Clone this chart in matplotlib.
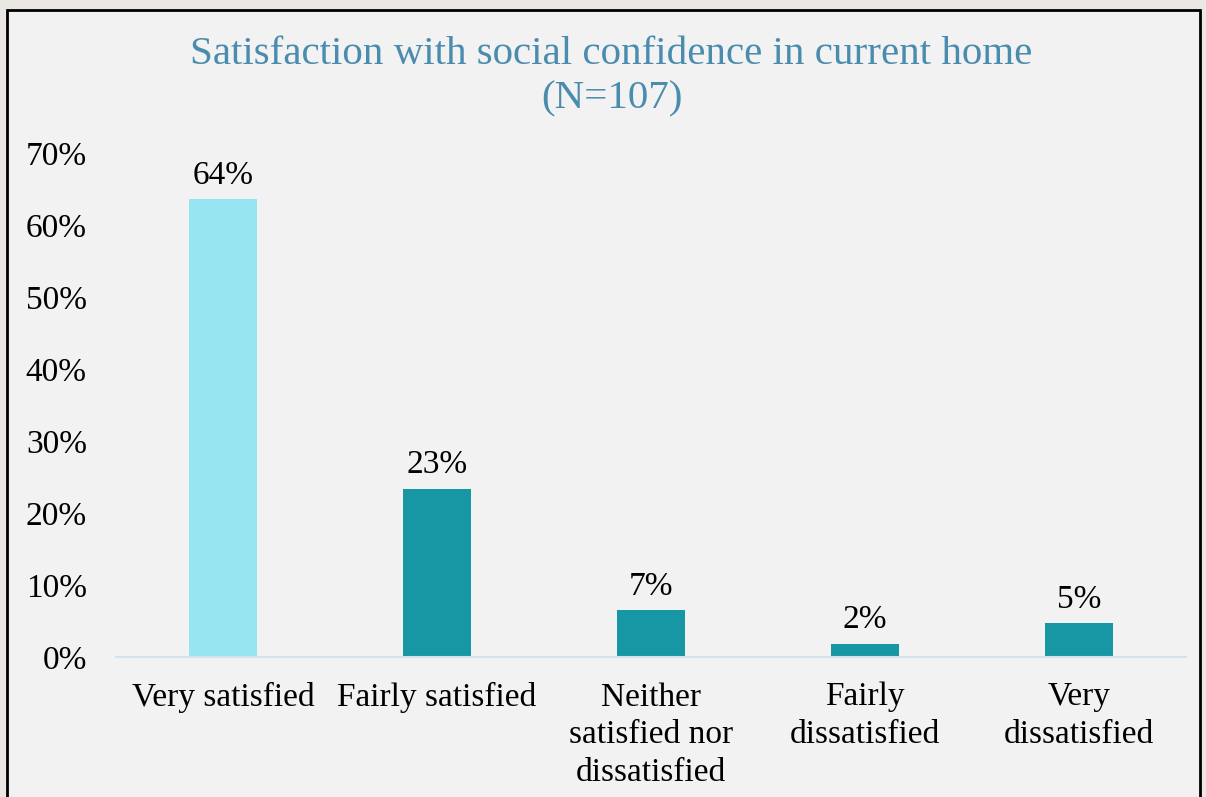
import numpy as np
import matplotlib.pyplot as plt
from matplotlib.patches import Rectangle

# survey responses, N = 107
categories = ['Very satisfied', 'Fairly satisfied',
              'Neither\nsatisfied nor\ndissatisfied',
              'Fairly\ndissatisfied', 'Very\ndissatisfied']
counts = np.array([68, 25, 7, 2, 5])
n_total = 107
yticks = [0, 10, 20, 30, 40, 50, 60, 70]

pct = counts / n_total * 100
colors = ['#96e5f0', '#1796a3', '#1796a3', '#1796a3', '#1796a3']

plt.rcParams['font.family'] = ['Liberation Serif', 'DejaVu Serif']

fig = plt.figure(figsize=(12.06, 7.97), dpi=100, facecolor='#ebe8e3')
fig.patches.append(Rectangle((7/1206, -0.02), 1193/1206, 1.02 - 10/797,
                             transform=fig.transFigure, facecolor='#f2f2f2',
                             edgecolor='black', linewidth=2, zorder=-10))

ax = fig.add_axes([116/1206, 1 - 657/797, 1070/1206, 504/797])
ax.set_facecolor('none')
x = np.arange(len(categories))
bars = ax.bar(x, pct, width=0.32, color=colors)

for xi, p in zip(x, pct):
    ax.annotate('{:.0f}%'.format(p), (xi, p), xytext=(0, 6),
                textcoords='offset points', ha='center', va='bottom',
                fontsize=24)

ax.set_xlim(-0.5, len(categories) - 0.5)
ax.set_ylim(0, 70)
ax.set_yticks(yticks)
ax.set_yticklabels(['{}%'.format(t) for t in yticks], fontsize=24)
ax.set_xticks(x)
ax.set_xticklabels(categories, fontsize=24, linespacing=1.3)
ax.tick_params(axis='both', length=0)
ax.tick_params(axis='y', pad=21)
ax.tick_params(axis='x', pad=18)

for s in ['top', 'right', 'left']:
    ax.spines[s].set_visible(False)
ax.spines['bottom'].set_color('#d3e4ec')
ax.spines['bottom'].set_linewidth(1.5)

fig.text(0.507, 1 - 77/797,
         'Satisfaction with social confidence in current home\n(N={})'.format(n_total),
         ha='center', va='center', fontsize=29.5, color='#4a8cae',
         linespacing=1.25)

fig.savefig('out.png', dpi=100, facecolor=fig.get_facecolor())
